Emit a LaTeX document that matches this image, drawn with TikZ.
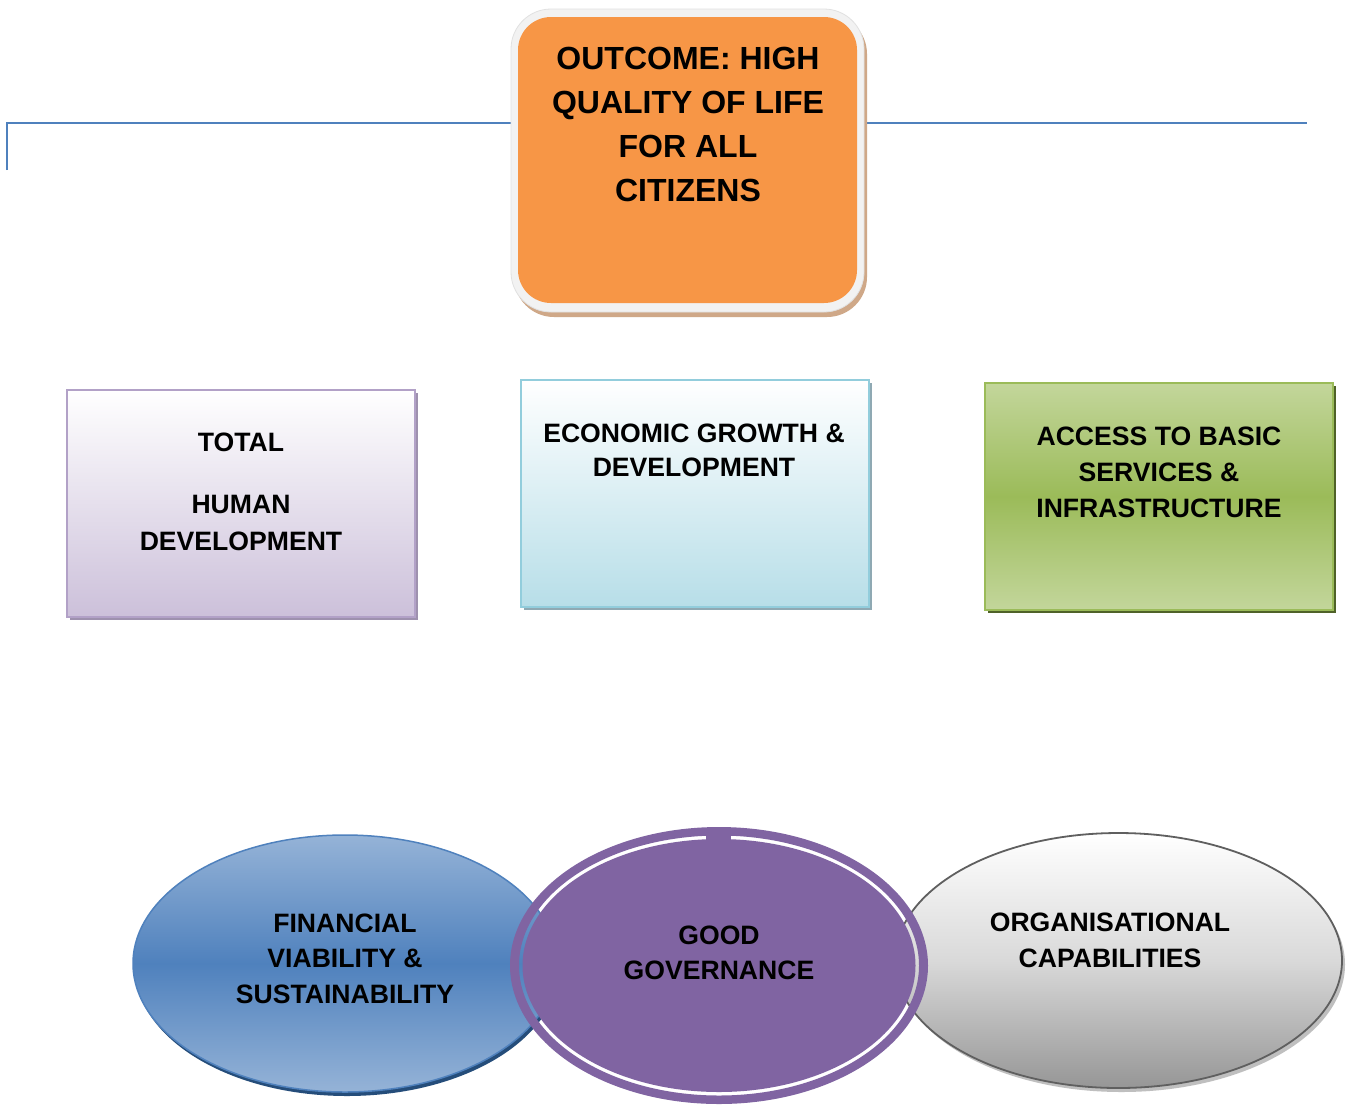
\documentclass[tikz,border=0pt]{standalone}
\usepackage{fontspec}
\setmainfont{Liberation Sans}
\usetikzlibrary{shadows}
\definecolor{linebl}{HTML}{4F81BD}
\definecolor{orng}{HTML}{F79646}
\definecolor{framegray}{HTML}{F2F2F2}
\definecolor{tanshadow}{HTML}{CFA888}
\definecolor{lavedge}{HTML}{B2A1C7}
\definecolor{lavfill}{HTML}{CCC0DA}
\definecolor{lavshadow}{HTML}{9E91AE}
\definecolor{aquaedge}{HTML}{92CDDC}
\definecolor{aquafill}{HTML}{B7DEE8}
\definecolor{aquashadow}{HTML}{8FA9B3}
\definecolor{grnedge}{HTML}{9BBB59}
\definecolor{grnlight}{HTML}{C3D69B}
\definecolor{grnmid}{HTML}{9BBB59}
\definecolor{grnshadow}{HTML}{4F6228}
\definecolor{bluelight}{HTML}{95B3D7}
\definecolor{bluemid}{HTML}{4F81BD}
\definecolor{blueedge}{HTML}{4F81BD}
\definecolor{blueshadow}{HTML}{254D7A}
\definecolor{greymid}{HTML}{D9D9D9}
\definecolor{greybot}{HTML}{969696}
\definecolor{greyedge}{HTML}{5F5F5F}
\definecolor{greyshadow}{HTML}{BFBFBF}
\definecolor{purp}{HTML}{8064A2}
\begin{document}
\begin{tikzpicture}[x=1pt,y=-1pt]
\tikzset{
  lbl/.style={align=center, inner sep=0pt, text=black, font=\fontsize{26.6}{36}\selectfont\bfseries},
  rectbox/.style={rectangle, minimum width=348pt, minimum height=227pt, inner sep=0pt, line width=2pt},
}
\fill[white] (0,0) rectangle (1348,1104);
\useasboundingbox (0,0) rectangle (1348,1104);

% blue line
\coordinate (l0) at (7,170);
\coordinate (l1) at (7,123);
\coordinate (l2) at (1307,123);
\draw[linebl, line width=2pt] (l0) -- (l1) -- (l2);

% outcome box
\node[rectangle, rounded corners=40pt, minimum width=353pt, minimum height=303pt, inner sep=0pt,
      fill=framegray, draw=framegray!85!gray, line width=0.8pt,
      drop shadow={shadow xshift=3pt, shadow yshift=-5pt, opacity=1, fill=tanshadow}] (oframe) at (687.5,160.5) {};
\node[rectangle, rounded corners=33pt, minimum width=339pt, minimum height=286pt, inner sep=0pt, fill=orng] (obox) at (687.5,160) {};
\node[lbl, font=\fontsize{32}{44.3}\selectfont\bfseries] (otext) at (688,124.5) {OUTCOME: HIGH\\QUALITY OF LIFE\\FOR ALL\\CITIZENS};

% three rectangles
\node[rectbox, draw=lavedge, top color=white, bottom color=lavfill,
      drop shadow={shadow xshift=3pt, shadow yshift=-3pt, opacity=1, fill=lavshadow}] (hbox) at (241,503.5) {};
\node[lbl, font=\fontsize{26.6}{37}\selectfont\bfseries] (htext) at (241,491.5) {TOTAL\\[25pt]HUMAN\\DEVELOPMENT};

\node[rectbox, draw=aquaedge, top color=white, bottom color=aquafill,
      drop shadow={shadow xshift=3pt, shadow yshift=-3pt, opacity=1, fill=aquashadow}] (ebox) at (695,493.5) {};
\node[lbl, font=\fontsize{26.6}{34}\selectfont\bfseries] (etext) at (694,450) {ECONOMIC GROWTH \&\\DEVELOPMENT};

\node[rectbox, draw=grnedge, top color=grnlight, bottom color=grnlight, middle color=grnmid,
      drop shadow={shadow xshift=3pt, shadow yshift=-3pt, opacity=1, fill=grnshadow}] (abox) at (1159,496.5) {};
\node[lbl, font=\fontsize{26.6}{36}\selectfont\bfseries] (atext) at (1159,472) {ACCESS TO BASIC\\SERVICES \&\\INFRASTRUCTURE};

% blue ellipse
\fill[blueshadow] (347,967.5) ellipse [x radius=212, y radius=128.5];
\path[draw=blueedge, line width=1.5pt, top color=bluelight, bottom color=bluelight, middle color=bluemid]
  (345,963.5) ellipse [x radius=212, y radius=128.5];

% grey ellipse
\fill[greyshadow] (1121.5,964.5) ellipse [x radius=223.5, y radius=127.5];
\path[draw=greyedge, line width=1.8pt, top color=white, bottom color=greybot, middle color=greymid]
  (1118.5,960.5) ellipse [x radius=223.5, y radius=127.5];

% purple ellipse with see-through ring
\fill[purp, even odd rule] (719,965.5) ellipse [x radius=209, y radius=138.5]
                           (719,965.5) ellipse [x radius=200, y radius=130];
\fill[purp] (719,965.5) ellipse [x radius=196.5, y radius=126.5];
\fill[purp] (706,833) rectangle (731,843);

\node[lbl, font=\fontsize{26.6}{35.5}\selectfont\bfseries] (ftext) at (345,958.5) {FINANCIAL\\VIABILITY \&\\SUSTAINABILITY};
\node[lbl, font=\fontsize{26.6}{34.5}\selectfont\bfseries] (gtext) at (719,953) {GOOD\\GOVERNANCE};
\node[lbl, font=\fontsize{26.6}{36}\selectfont\bfseries] (otext2) at (1110,940) {ORGANISATIONAL\\CAPABILITIES};
\end{tikzpicture}
\end{document}
